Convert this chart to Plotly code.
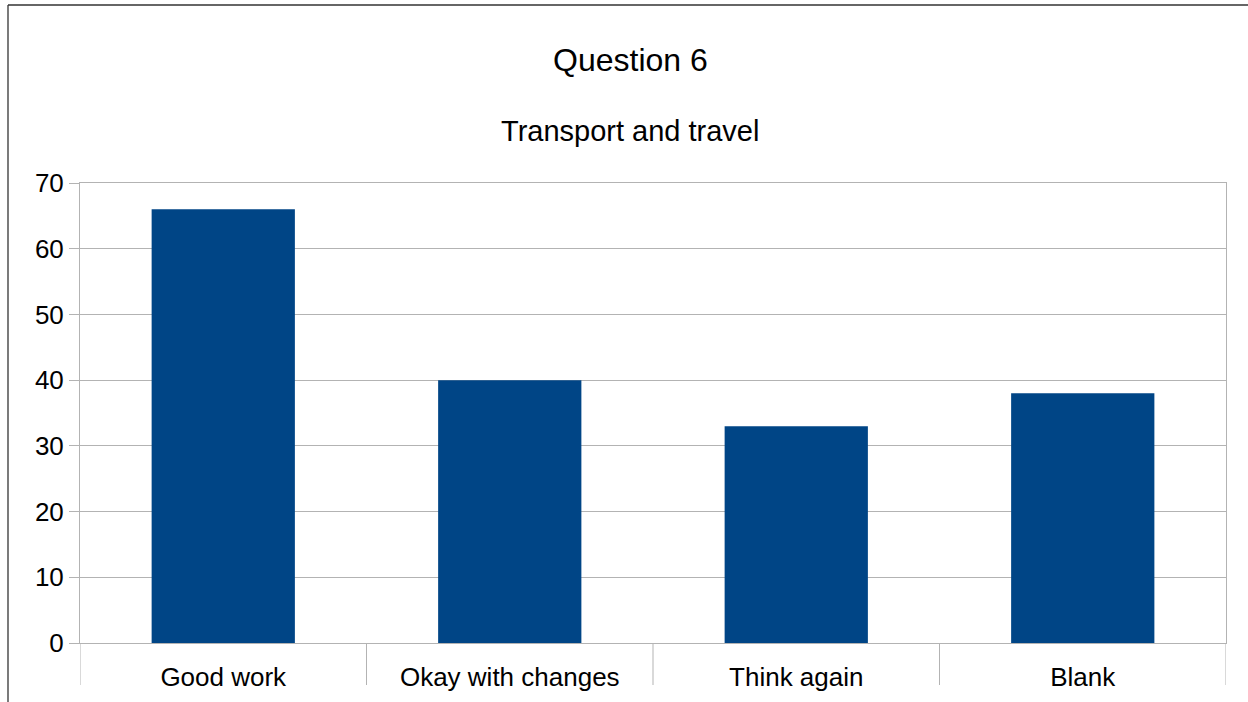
import plotly.graph_objects as go

categories = ["Good work", "Okay with changes", "Think again", "Blank"]
values = [66, 40, 33, 38]
y_ticks = [0, 10, 20, 30, 40, 50, 60, 70]

FONT = "Liberation Sans, Arial, sans-serif"
GRID = "#b3b3b3"

W, H = 1248, 702
L, R, T, B = 80, 22, 183, 59
ph = H - T - B
pw = W - L - R


def py(pix):
    return (H - B - pix) / ph


def px(pix):
    return (pix - L) / pw


fig = go.Figure(go.Bar(x=categories, y=values, marker=dict(color="#004586", line=dict(width=0)), width=0.5))

shapes = [
    dict(type="line", xref="paper", yref="paper", x0=px(8), x1=px(1260), y0=py(5), y1=py(5),
         line=dict(color="#333333", width=1.3)),
    dict(type="line", xref="paper", yref="paper", x0=px(8), x1=px(8), y0=py(5), y1=py(710),
         line=dict(color="#333333", width=1.3)),
]
for b in [-0.5, 0.5, 1.5, 2.5, 3.5]:
    shapes.append(dict(type="line", xref="x", yref="paper", x0=b, x1=b, y0=0, y1=py(685),
                       line=dict(color=GRID, width=1)))

fig.update_layout(
    width=W, height=H,
    margin=dict(l=L, r=R, t=T, b=B),
    paper_bgcolor="white", plot_bgcolor="white",
    showlegend=False,
    font=dict(family=FONT, color="black"),
    xaxis=dict(type="category", showgrid=False, ticks="", showline=True, linecolor=GRID, linewidth=1,
               mirror=True, tickfont=dict(size=26, family=FONT), ticklabelstandoff=11,
               range=[-0.5, 3.5], automargin=False),
    yaxis=dict(range=[0, 70], tickvals=y_ticks, showgrid=True, gridcolor=GRID, gridwidth=1,
               showline=True, linecolor=GRID, mirror=True, ticks="outside", ticklen=10, tickcolor=GRID,
               tickfont=dict(size=26, family=FONT), zeroline=False, automargin=False),
    annotations=[
        dict(text="Question 6", x=px(630), xref="paper", y=py(60), yref="paper", yanchor="middle",
             showarrow=False, font=dict(size=32, family=FONT)),
        dict(text="Transport and travel", x=px(630), xref="paper", y=py(131), yref="paper", yanchor="middle",
             showarrow=False, font=dict(size=29, family=FONT)),
    ],
    shapes=shapes,
)

fig.write_html("out.html", config={"displayModeBar": False},
               post_script="document.body.style.margin='0';")
